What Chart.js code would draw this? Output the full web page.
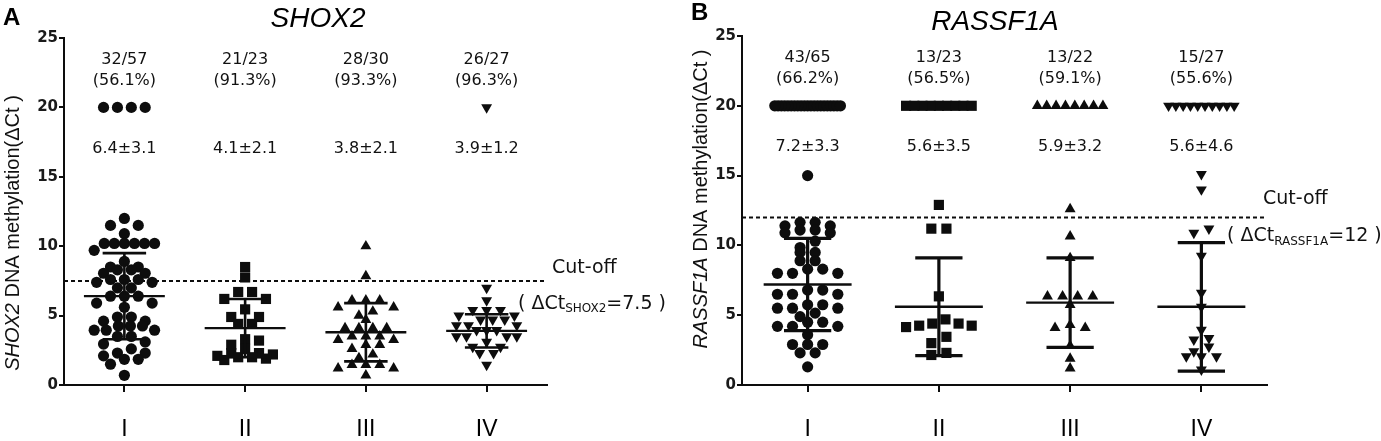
<!DOCTYPE html>
<html>
<head>
<meta charset="utf-8">
<script src="https://cdn.jsdelivr.net/npm/chart.js@4.4.1/dist/chart.umd.min.js"></script>
<style>
    html, body { margin: 0; padding: 0; background: #fff; }
    #wrap { position: relative; width: 1381px; height: 441px; overflow: hidden; }
    .panel { position: absolute; top: 0; height: 441px; }
</style>
</head>
<body>
<div id="wrap">
    <div class="panel" style="left:0;width:690px"><canvas id="shoxChart" width="690" height="441"></canvas></div>
    <div class="panel" style="left:690px;width:691px"><canvas id="rassfChart" width="691" height="441"></canvas></div>
</div>
<script>
const groups = ['I', 'II', 'III', 'IV'];

// Panel A - SHOX2 delta Ct per group (20 = not detected)
const shoxI = [20, 20, 20, 20, 12.0, 11.5, 11.5, 10.9, 10.2, 10.2, 10.2, 10.2, 10.2, 10.2, 9.7, 8.9, 8.5, 8.5,
    8.3, 8.3, 8.05, 8.05, 7.6, 7.6, 7.6, 7.4, 7.4, 7.0, 7.0, 6.4, 6.4, 6.4, 5.9, 5.9, 5.6, 4.9, 4.9, 4.6, 4.6,
    4.25, 4.25, 4.25, 3.95, 3.95, 3.95, 3.5, 3.5, 3.1, 2.95, 2.6, 2.3, 2.3, 2.1, 1.85, 1.85, 1.5, 0.7];
const shoxII = [8.5, 7.75, 6.7, 6.7, 6.2, 6.2, 5.45, 4.9, 4.9, 4.4, 4.4, 3.3, 3.2, 2.9, 2.6, 2.3, 2.3, 2.2,
    2.1, 2.0, 2.0, 1.9, 1.8];
const shoxIII = [10.0, 7.85, 6.1, 6.1, 6.1, 5.6, 5.6, 5.3, 5.0, 4.7, 4.1, 4.1, 4.1, 4.1, 3.5, 3.5, 3.5, 3.25,
    3.25, 2.9, 2.9, 2.6, 2.2, 1.95, 1.45, 1.45, 1.45, 1.2, 1.2, 0.7];
const shoxIV = [20, 7.0, 6.1, 5.4, 5.4, 5.4, 5.0, 5.0, 4.7, 4.7, 4.7, 4.3, 4.3, 4.3, 3.95, 3.95, 3.95, 3.5, 3.5,
    3.5, 3.5, 3.1, 2.75, 2.75, 2.3, 2.3, 1.45];
const shoxMeans = [6.4, 4.1, 3.8, 3.9];
const shoxSds = [3.1, 2.1, 2.1, 1.2];
const shoxCounts = ['32/57', '21/23', '28/30', '26/27'];
const shoxPercents = ['(56.1%)', '(91.3%)', '(93.3%)', '(96.3%)'];
const shoxCutoff = 7.5;

// Panel B - RASSF1A delta Ct per group
const rassfI = [20, 20, 20, 20, 20, 20, 20, 20, 20, 20, 20, 20, 20, 20, 20, 20, 20, 20, 20, 20, 20, 15.0,
    11.65, 11.65, 11.4, 11.4, 11.1, 11.1, 10.9, 10.9, 10.3, 9.85, 9.5, 9.5, 8.9, 8.9, 8.3, 8.3, 8.0, 8.0, 8.0,
    6.8, 6.8, 6.5, 6.5, 6.5, 5.75, 5.75, 5.5, 5.5, 5.5, 5.15, 4.9, 4.5, 4.5, 4.2, 4.2, 4.2, 3.6, 2.9, 2.9,
    2.9, 2.3, 2.3, 1.3];
const rassfII = [20, 20, 20, 20, 20, 20, 20, 20, 20, 12.9, 11.2, 11.2, 6.35, 4.7, 4.4, 4.4, 4.25, 4.25, 4.15,
    3.45, 3.0, 2.3, 2.15];
const rassfIII = [20, 20, 20, 20, 20, 20, 20, 20, 12.6, 10.65, 9.1, 6.35, 6.35, 6.35, 6.35, 5.75, 4.3, 4.1, 4.1,
    2.8, 1.9, 1.2];
const rassfIV = [20, 20, 20, 20, 20, 20, 20, 20, 20, 20, 15.1, 14.0, 11.2, 10.9, 9.25, 6.6, 5.6, 3.95, 3.35,
    3.25, 2.75, 2.4, 2.05, 2.05, 2.05, 1.1];
const rassfMeans = [7.2, 5.6, 5.9, 5.6];
const rassfSds = [3.3, 3.5, 3.2, 4.6];
const rassfCounts = ['43/65', '13/23', '13/22', '15/27'];
const rassfPercents = ['(66.2%)', '(56.5%)', '(59.1%)', '(55.6%)'];
const rassfCutoff = 12;

const INK = '#0d0d0d';
const pointStyles = [
    { pointStyle: 'circle', radius: 5.6, rotation: 0 },
    { pointStyle: 'rect', radius: 7.2, rotation: 0 },
    { pointStyle: 'triangle', radius: 6.3, rotation: 0 },
    { pointStyle: 'triangle', radius: 6.3, rotation: 180 }
];

// Prism-like scatter: values close together share a row, spread around the column centre
function spreadOffsets(values, gap, maxSpan, binH) {
    const order = values.map((v, i) => i).sort((a, b) => values[b] - values[a]);
    const offs = new Array(values.length).fill(0);
    let row = [];
    const flush = () => {
        const n = row.length;
        const step = n > 1 ? Math.min(gap, maxSpan / (n - 1)) : 0;
        const slots = [];
        for (let k = 0; k < n; k++) slots.push((k - (n - 1) / 2) * step);
        slots.sort((a, b) => Math.abs(a) - Math.abs(b) || b - a);
        row.forEach((idx, k) => { offs[idx] = slots[k]; });
        row = [];
    };
    order.forEach(idx => {
        if (row.length && values[row[0]] - values[idx] > binH) flush();
        row.push(idx);
    });
    flush();
    return offs;
}

function buildDatasets(groupValues) {
    return groupValues.map((vals, g) => {
        const offs = spreadOffsets(vals, 0.115, 0.5, 0.55);
        const st = pointStyles[g];
        return {
            label: groups[g],
            data: vals.map((v, i) => ({ x: g + offs[i], y: v })),
            pointStyle: st.pointStyle,
            pointRadius: st.radius,
            pointRotation: st.rotation,
            pointBackgroundColor: INK,
            pointBorderWidth: 0,
            pointHoverRadius: st.radius,
            showLine: false
        };
    });
}

const annotations = {
    id: 'annotations',
    beforeDatasetsDraw(chart, args, o) {
        const { ctx, chartArea } = chart;
        const y = chart.scales.y;
        const cy = y.getPixelForValue(o.cutoff);
        ctx.save();
        ctx.strokeStyle = INK;
        ctx.lineWidth = 2;
        ctx.setLineDash([4, 3]);
        ctx.beginPath();
        ctx.moveTo(chartArea.left, cy);
        ctx.lineTo(chartArea.right, cy);
        ctx.stroke();
        ctx.restore();
    },
    afterDatasetsDraw(chart, args, o) {
        const { ctx, chartArea } = chart;
        const x = chart.scales.x, y = chart.scales.y;
        const slot = x.getPixelForValue(1) - x.getPixelForValue(0);
        ctx.save();
        ctx.strokeStyle = INK;
        ctx.lineCap = 'butt';
        o.means.forEach((m, i) => {
            const cx = x.getPixelForValue(i);
            const top = y.getPixelForValue(m + o.sds[i]);
            const bot = y.getPixelForValue(m - o.sds[i]);
            const my = y.getPixelForValue(m);
            ctx.lineWidth = o.barWidth;
            ctx.beginPath();
            ctx.moveTo(cx, top); ctx.lineTo(cx, bot);
            ctx.moveTo(cx - slot * 0.18, top); ctx.lineTo(cx + slot * 0.18, top);
            ctx.moveTo(cx - slot * 0.18, bot); ctx.lineTo(cx + slot * 0.18, bot);
            ctx.stroke();
            ctx.lineWidth = 2.4;
            ctx.beginPath();
            ctx.moveTo(cx - slot * 0.335, my); ctx.lineTo(cx + slot * 0.335, my);
            ctx.stroke();
        });

        // counts, percentages and mean +/- SD above the columns
        ctx.fillStyle = '#111';
        ctx.textAlign = 'center';
        ctx.textBaseline = 'middle';
        ctx.font = '16px "DejaVu Sans"';
        groups.forEach((g, i) => {
            const cx = x.getPixelForValue(i);
            ctx.fillText(o.counts[i], cx, y.getPixelForValue(23.4));
            ctx.fillText(o.percents[i], cx, y.getPixelForValue(21.9));
            ctx.fillText(o.means[i].toFixed(1) + '\u00b1' + o.sds[i].toFixed(1), cx, y.getPixelForValue(17.05));
        });

        // cut-off note on the right
        const cy = y.getPixelForValue(o.cutoff);
        ctx.textAlign = 'left';
        ctx.font = '19px "DejaVu Sans"';
        ctx.fillText('Cut-off', chartArea.right + o.cutDx, cy - o.cutUp);
        let tx = chartArea.right - o.noteBack;
        const ty = cy + o.noteDown;
        ctx.fillText('( \u0394Ct', tx, ty);
        tx += ctx.measureText('( \u0394Ct').width;
        ctx.font = '12px "DejaVu Sans"';
        ctx.fillText(o.gene, tx, ty + 5);
        tx += ctx.measureText(o.gene).width;
        ctx.font = '19px "DejaVu Sans"';
        ctx.fillText('=' + o.cutoff + ' )', tx, ty);

        // panel letter and gene title
        ctx.textBaseline = 'alphabetic';
        ctx.font = 'bold 24px "Liberation Sans"';
        ctx.fillStyle = '#000';
        ctx.fillText(o.letter, o.letterX, o.letterY);
        ctx.textAlign = 'center';
        ctx.font = 'italic 28px "Liberation Sans"';
        ctx.fillText(o.gene, o.titleX, o.titleY);

        // rotated y axis title: italic gene name + rest
        ctx.save();
        ctx.translate(o.yTitleX, o.yTitleY);
        ctx.rotate(-Math.PI / 2);
        ctx.textBaseline = 'middle';
        ctx.textAlign = 'left';
        ctx.fillStyle = '#111';
        ctx.font = 'italic 20px "Liberation Sans"';
        const w1 = ctx.measureText(o.gene).width;
        ctx.font = '20px "Liberation Sans"';
        const rest = ' DNA methylation(\u0394Ct )';
        const w2 = ctx.measureText(rest).width;
        let sx = -(w1 + w2) / 2;
        ctx.font = 'italic 20px "Liberation Sans"';
        ctx.fillText(o.gene, sx, 0);
        ctx.font = '20px "Liberation Sans"';
        ctx.fillText(rest, sx + w1, 0);
        ctx.restore();
        ctx.restore();
    }
};

function makeChart(canvasId, groupValues, cfg) {
    const ctx = document.getElementById(canvasId).getContext('2d');
    return new Chart(ctx, {
        type: 'scatter',
        data: { datasets: buildDatasets(groupValues) },
        options: {
            responsive: false,
            animation: false,
            events: [],
            layout: { padding: { left: 0, right: cfg.padRight, top: cfg.padTop, bottom: 0 } },
            scales: {
                x: {
                    type: 'linear',
                    min: -0.5,
                    max: 3.5,
                    afterBuildTicks: s => { s.ticks = groups.map((g, i) => ({ value: i })); },
                    afterFit: s => { s.height = 441 - 385; },
                    ticks: {
                        callback: v => groups[v],
                        color: '#000',
                        font: { family: '"Liberation Sans"', size: 23 },
                        padding: 24,
                        maxRotation: 0
                    },
                    grid: { drawOnChartArea: false, drawTicks: true, tickLength: 7, color: INK, lineWidth: 2 },
                    border: { color: INK, width: 2 }
                },
                y: {
                    min: 0,
                    max: 25,
                    afterFit: s => { s.width = cfg.yWidth; },
                    ticks: {
                        stepSize: 5,
                        color: '#1a1a1a',
                        font: { family: '"DejaVu Sans"', size: 15, weight: 'bold' },
                        padding: 1
                    },
                    grid: { drawOnChartArea: false, drawTicks: true, tickLength: 5, color: INK, lineWidth: 2 },
                    border: { color: INK, width: 2 }
                }
            },
            plugins: {
                legend: { display: false },
                tooltip: { enabled: false },
                annotations: cfg.notes
            }
        },
        plugins: [annotations]
    });
}

makeChart('shoxChart', [shoxI, shoxII, shoxIII, shoxIV], {
    padRight: 690 - 547, padTop: 38, yWidth: 64,
    notes: {
        means: shoxMeans, sds: shoxSds, counts: shoxCounts, percents: shoxPercents, cutoff: shoxCutoff,
        gene: 'SHOX2', letter: 'A', letterX: 3, letterY: 25, titleX: 318, titleY: 27, barWidth: 2.6,
        yTitleX: 13, yTitleY: 233, cutDx: 5, cutUp: 13, noteBack: 29, noteDown: 23
    }
});

makeChart('rassfChart', [rassfI, rassfII, rassfIII, rassfIV], {
    padRight: 691 - 577, padTop: 36, yWidth: 52,
    notes: {
        means: rassfMeans, sds: rassfSds, counts: rassfCounts, percents: rassfPercents, cutoff: rassfCutoff,
        gene: 'RASSF1A', letter: 'B', letterX: 1, letterY: 20, titleX: 305, titleY: 30, barWidth: 3.2,
        yTitleX: 11, yTitleY: 199, cutDx: -4, cutUp: 18, noteBack: 40, noteDown: 19
    }
});
</script>
</body>
</html>
